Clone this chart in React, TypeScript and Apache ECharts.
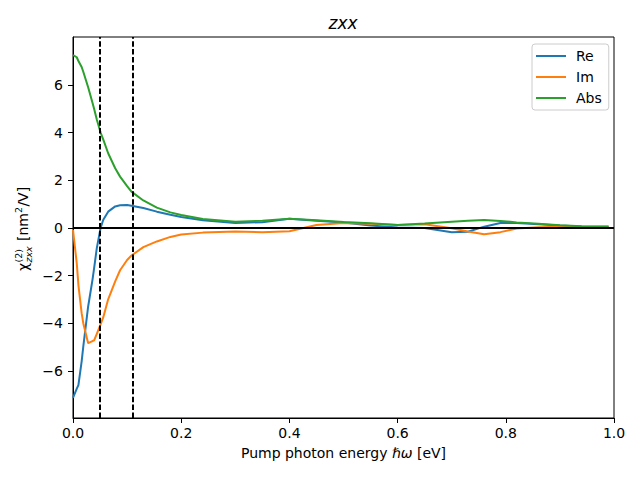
import React, { useEffect, useRef } from 'react';
import * as echarts from 'echarts';

const energies = [0, 0.007, 0.01, 0.016, 0.019, 0.028, 0.036, 0.039, 0.044, 0.051, 0.056, 0.065, 0.078, 0.087, 0.1, 0.108, 0.13, 0.155, 0.18, 0.2, 0.24, 0.3, 0.35, 0.4, 0.45, 0.5, 0.55, 0.6, 0.65, 0.7, 0.73, 0.76, 0.79, 0.82, 0.86, 0.9, 0.94, 0.99];
const reValues = [-7.14, -6.75, -6.6, -5.6, -4.98, -3.3, -2.18, -1.7, -0.85, 0.0, 0.34, 0.68, 0.9, 0.95, 0.96, 0.93, 0.83, 0.68, 0.55, 0.46, 0.32, 0.2, 0.24, 0.38, 0.3, 0.22, 0.1, 0.01, -0.01, -0.18, -0.16, 0.05, 0.2, 0.2, 0.15, 0.1, 0.06, 0.05];
const imValues = [-0.08, -1.5, -2.4, -3.58, -4.0, -4.84, -4.75, -4.72, -4.45, -4.05, -3.75, -3.0, -2.25, -1.78, -1.35, -1.16, -0.81, -0.57, -0.38, -0.28, -0.2, -0.15, -0.18, -0.14, 0.12, 0.2, 0.17, 0.12, 0.15, -0.02, -0.15, -0.27, -0.18, -0.03, 0.03, 0.05, 0.04, 0.03];
const absValues = [7.25, 7.16, 7.0, 6.75, 6.55, 5.9, 5.25, 5.0, 4.55, 4.0, 3.7, 3.13, 2.5, 2.15, 1.75, 1.52, 1.15, 0.85, 0.65, 0.54, 0.37, 0.26, 0.3, 0.38, 0.32, 0.25, 0.19, 0.12, 0.18, 0.26, 0.3, 0.33, 0.29, 0.23, 0.17, 0.11, 0.07, 0.06];
const seriesNames = ['Re', 'Im', 'Abs'];
const seriesColors = ['#1f77b4', '#ff7f0e', '#2ca02c'];
const yTicks = [-6, -4, -2, 0, 2, 4, 6];
const dashedEnergies = [0.054, 0.109];
const yMin = -7.98;
const yMax = 8.01;

const FONT = 'DejaVu Sans';

export default function App() {
  const ref = useRef<HTMLDivElement>(null);
  useEffect(() => {
    const chart = echarts.init(ref.current!, null, { renderer: 'svg' });
    const allValues = [reValues, imValues, absValues];
    const lineSeries = seriesNames.map((name, k) => ({
      name,
      type: 'line',
      data: energies.map((x, i) => [x, allValues[k][i]]),
      showSymbol: false,
      symbol: 'none',
      z: 2,
      lineStyle: { color: seriesColors[k], width: 2 },
      itemStyle: { color: seriesColors[k] },
    }));
    const refSeries = {
      name: 'ref',
      type: 'line',
      data: [],
      z: 5,
      markLine: {
        silent: true,
        symbol: 'none',
        animation: false,
        label: { show: false },
        emphasis: { disabled: true },
        lineStyle: { color: '#000', width: 2 },
        data: [
          { yAxis: 0, lineStyle: { color: '#000', width: 2, type: 'solid' } },
          ...dashedEnergies.map((e) => ({
            xAxis: e,
            lineStyle: { color: '#000', width: 2, type: [5.5, 2.4] },
          })),
        ],
      },
    };
    const fmtY = (v: number) => (v < 0 ? '\u2212' + Math.abs(v) : String(v));
    chart.setOption({
      animation: false,
      backgroundColor: '#fff',
      textStyle: { fontFamily: FONT },
      grid: {
        left: 73,
        right: 26,
        top: 37,
        bottom: 62,
        show: true,
        borderColor: '#000',
        borderWidth: 1,
        backgroundColor: 'transparent',
      },
      legend: {
        data: seriesNames,
        orient: 'vertical',
        left: 532,
        top: 44,
        padding: [4, 7, 4, 4],
        itemWidth: 30,
        itemHeight: 2,
        itemGap: 5,
        icon: 'rect',
        borderColor: '#cccccc',
        borderWidth: 1,
        borderRadius: 3,
        backgroundColor: 'rgba(255,255,255,0.8)',
        textStyle: { fontFamily: FONT, fontSize: 14, color: '#000', lineHeight: 16, padding: [0, 0, 0, 5] },
      },
      xAxis: {
        type: 'value',
        min: 0,
        max: 1,
        interval: 0.2,
        name: 'Pump photon energy {i|\u210F\u03C9} [eV]',
        nameLocation: 'middle',
        nameGap: 28,
        nameTextStyle: {
          fontFamily: FONT,
          fontSize: 14,
          color: '#000',
          rich: { i: { fontFamily: FONT, fontSize: 14, fontStyle: 'italic', color: '#000' } },
        },
        axisLine: { show: true, onZero: false, lineStyle: { color: '#000', width: 1 } },
        axisTick: { show: true, length: 5, inside: false, lineStyle: { color: '#000', width: 1 } },
        axisLabel: {
          color: '#000',
          fontFamily: FONT,
          fontSize: 14,
          margin: 8,
          formatter: (v: number) => v.toFixed(1),
        },
        splitLine: { show: false },
      },
      yAxis: {
        type: 'value',
        min: yMin,
        max: yMax,
        axisLine: { show: true, onZero: false, lineStyle: { color: '#000', width: 1 } },
        axisTick: {
          show: true,
          length: 5,
          inside: false,
          customValues: yTicks,
          lineStyle: { color: '#000', width: 1 },
        },
        axisLabel: {
          color: '#000',
          fontFamily: FONT,
          fontSize: 14,
          margin: 10,
          customValues: yTicks,
          formatter: fmtY,
        },
        splitLine: { show: false },
      },
      graphic: [
        {
          type: 'text',
          x: 343,
          y: 23,
          style: {
            text: 'zxx',
            fontFamily: FONT,
            fontSize: 17,
            fontStyle: 'italic',
            fill: '#000',
            align: 'center',
            verticalAlign: 'middle',
          },
        },
        {
          type: 'group',
          x: 23,
          y: 228,
          rotation: Math.PI / 2,
          children: [
            { type: 'text', x: -43, y: 0, style: { text: '\u03C7', fontFamily: FONT, fontSize: 14, fill: '#000', align: 'left', verticalAlign: 'middle' } },
            { type: 'text', x: -34.5, y: -5, style: { text: '(2)', fontFamily: FONT, fontSize: 9.5, fill: '#000', align: 'left', verticalAlign: 'middle' } },
            { type: 'text', x: -34.5, y: 5, style: { text: 'zxx', fontFamily: FONT, fontSize: 9.5, fontStyle: 'italic', fill: '#000', align: 'left', verticalAlign: 'middle' } },
            { type: 'text', x: -13, y: 0, style: { text: '[nm', fontFamily: FONT, fontSize: 14, fill: '#000', align: 'left', verticalAlign: 'middle' } },
            { type: 'text', x: 15, y: -5, style: { text: '2', fontFamily: FONT, fontSize: 9.5, fill: '#000', align: 'left', verticalAlign: 'middle' } },
            { type: 'text', x: 21.4, y: 0, style: { text: '/V]', fontFamily: FONT, fontSize: 14, fill: '#000', align: 'left', verticalAlign: 'middle' } },
          ],
        },
      ],
      series: [...lineSeries, refSeries],
    });
    return () => chart.dispose();
  }, []);
  return (
    <div
      ref={ref}
      style={{ position: 'fixed', left: 0, top: 0, width: 640, height: 480, background: '#fff' }}
    />
  );
}
